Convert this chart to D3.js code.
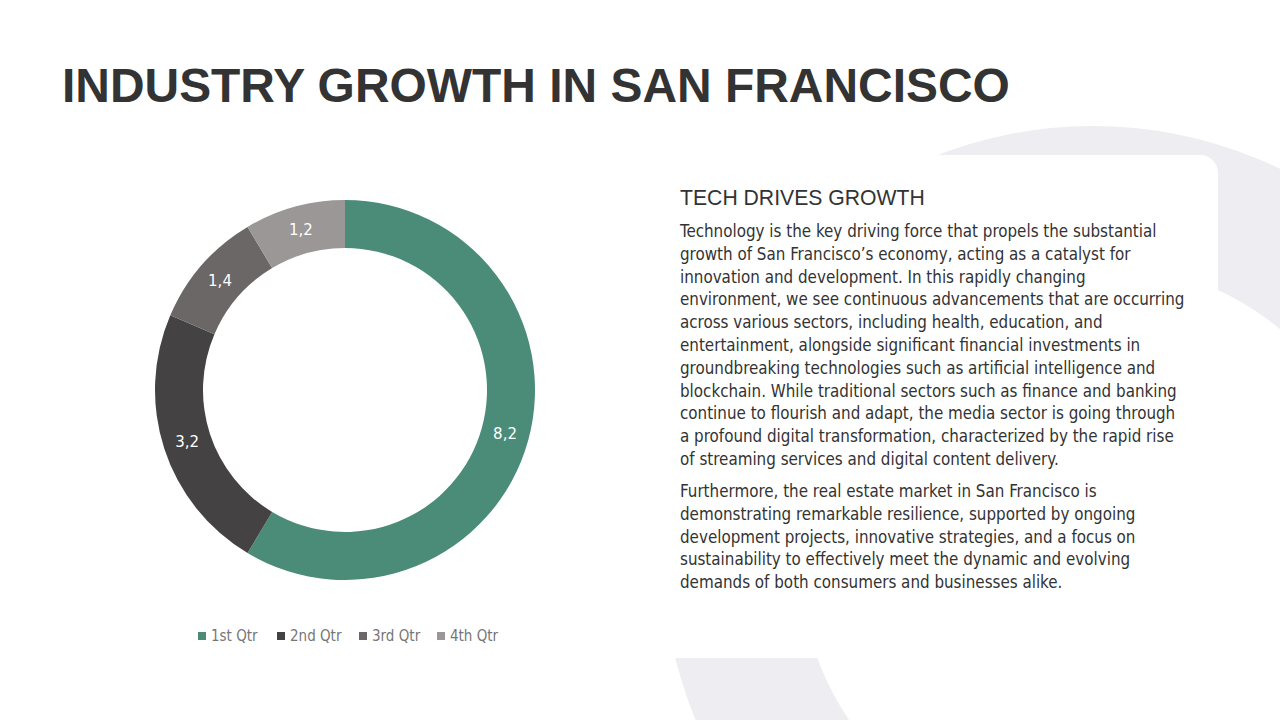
<!DOCTYPE html>
<html>
<head>
<meta charset="utf-8">
<script src="https://cdn.jsdelivr.net/npm/d3@7/dist/d3.min.js"></script>
<style>
  html, body { margin: 0; padding: 0; background: #ffffff; }
  svg { display: block; }
</style>
</head>
<body>
<svg id="chart" width="1280" height="720"></svg>
<script>
// ---- data ----
const categories = ["1st Qtr", "2nd Qtr", "3rd Qtr", "4th Qtr"];
const values = [8.2, 3.2, 1.4, 1.2];
const colors = ["#4b8c79", "#454243", "#6a6766", "#9b9796"];

const title = "INDUSTRY GROWTH IN SAN FRANCISCO";
const subtitle = "TECH DRIVES GROWTH";
const paragraph1 = [
  "Technology is the key driving force that propels the substantial",
  "growth of San Francisco\u2019s economy, acting as a catalyst for",
  "innovation and development. In this rapidly changing",
  "environment, we see continuous advancements that are occurring",
  "across various sectors, including health, education, and",
  "entertainment, alongside significant financial investments in",
  "groundbreaking technologies such as artificial intelligence and",
  "blockchain. While traditional sectors such as finance and banking",
  "continue to flourish and adapt, the media sector is going through",
  "a profound digital transformation, characterized by the rapid rise",
  "of streaming services and digital content delivery."
];
const paragraph2 = [
  "Furthermore, the real estate market in San Francisco is",
  "demonstrating remarkable resilience, supported by ongoing",
  "development projects, innovative strategies, and a focus on",
  "sustainability to effectively meet the dynamic and evolving",
  "demands of both consumers and businesses alike."
];

const svg = d3.select("#chart");

// ---- background decoration ----
const bg = svg.append("g");
bg.append("path")
  .attr("transform", "translate(1093,556)")
  .attr("d", d3.arc()({innerRadius: 294, outerRadius: 430, startAngle: 0, endAngle: 2 * Math.PI}))
  .attr("fill", "#eeeef2");
// white card covering the ring
bg.append("path")
  .attr("d", (() => {
    const x0 = 600, y0 = 155, x1 = 1218, y1 = 658, r = 18;
    const p = d3.path();
    p.moveTo(x0, y0);
    p.lineTo(x1 - r, y0);
    p.arcTo(x1, y0, x1, y0 + r, r);
    p.lineTo(x1, y1);
    p.lineTo(x0, y1);
    p.closePath();
    return p.toString();
  })())
  .attr("fill", "#ffffff");

// ---- title ----
const titleText = svg.append("text")
  .attr("x", 62).attr("y", 102)
  .attr("font-family", "'Liberation Sans', Arial, sans-serif")
  .attr("font-weight", "bold")
  .attr("font-size", 51)
  .attr("fill", "#333333")
  .text(title);
{
  const w = titleText.node().getComputedTextLength();
  titleText.attr("font-size", 51 * 948 / w);
}

// ---- donut ----
const cx = 345, cy = 390, rOuter = 190, rInner = 142;
const pie = d3.pie().sort(null).value(d => d.value);
const data = categories.map((c, i) => ({cat: c, value: values[i], color: colors[i]}));
const arcs = pie(data);
const arc = d3.arc().innerRadius(rInner).outerRadius(rOuter);
const labelArc = d3.arc().innerRadius((rInner + rOuter) / 2).outerRadius((rInner + rOuter) / 2);

const g = svg.append("g").attr("transform", `translate(${cx},${cy})`);
g.selectAll("path.slice")
  .data(arcs)
  .join("path")
  .attr("class", "slice")
  .attr("d", arc)
  .attr("fill", d => d.data.color);

const fmt = v => v.toFixed(1).replace(".", ",");
g.selectAll("text.lbl")
  .data(arcs)
  .join("text")
  .attr("class", "lbl")
  .attr("transform", d => `translate(${labelArc.centroid(d)})`)
  .attr("text-anchor", "middle")
  .attr("dy", "0.35em")
  .attr("font-family", "'DejaVu Sans', Verdana, sans-serif")
  .attr("font-size", 15)
  .attr("fill", "#ffffff")
  .text(d => fmt(d.data.value));

// ---- legend ----
const legend = svg.append("g").attr("transform", "translate(198,636)");
const legendX = [0, 79, 161, 239];
const items = legend.selectAll("g.item")
  .data(data)
  .join("g")
  .attr("class", "item")
  .attr("transform", (d, i) => `translate(${legendX[i]},0)`);
items.append("rect")
  .attr("x", 0).attr("y", -4)
  .attr("width", 8).attr("height", 8)
  .attr("fill", d => d.color);
items.append("text")
  .attr("x", 13).attr("y", 0)
  .attr("dy", "0.35em")
  .attr("font-family", "'DejaVu Sans Condensed', 'DejaVu Sans', sans-serif")
  .attr("font-size", 15)
  .attr("fill", "#767676")
  .text(d => d.cat);

// ---- right text ----
const sub = svg.append("text")
  .attr("x", 680).attr("y", 205)
  .attr("font-family", "'Liberation Sans', Arial, sans-serif")
  .attr("font-size", 20)
  .attr("fill", "#333333")
  .text(subtitle);
{
  const w = sub.node().getComputedTextLength();
  sub.attr("font-size", 20 * 245 / w);
}

const bodyFont = "'DejaVu Sans Condensed', 'DejaVu Sans', sans-serif";
const body = svg.append("g");
const lineH = 22.8;
paragraph1.forEach((t, i) => {
  body.append("text")
    .attr("x", 680).attr("y", 237 + i * lineH)
    .attr("font-family", bodyFont)
    .attr("font-size", 16)
    .attr("fill", "#333333")
    .text(t);
});
paragraph2.forEach((t, i) => {
  body.append("text")
    .attr("x", 680).attr("y", 497 + i * lineH)
    .attr("font-family", bodyFont)
    .attr("font-size", 16)
    .attr("fill", "#333333")
    .text(t);
});
{
  let maxW = 0;
  body.selectAll("text").each(function() { maxW = Math.max(maxW, this.getComputedTextLength()); });
  body.selectAll("text").attr("font-size", 16 * 505 / maxW);
}
</script>
</body>
</html>
